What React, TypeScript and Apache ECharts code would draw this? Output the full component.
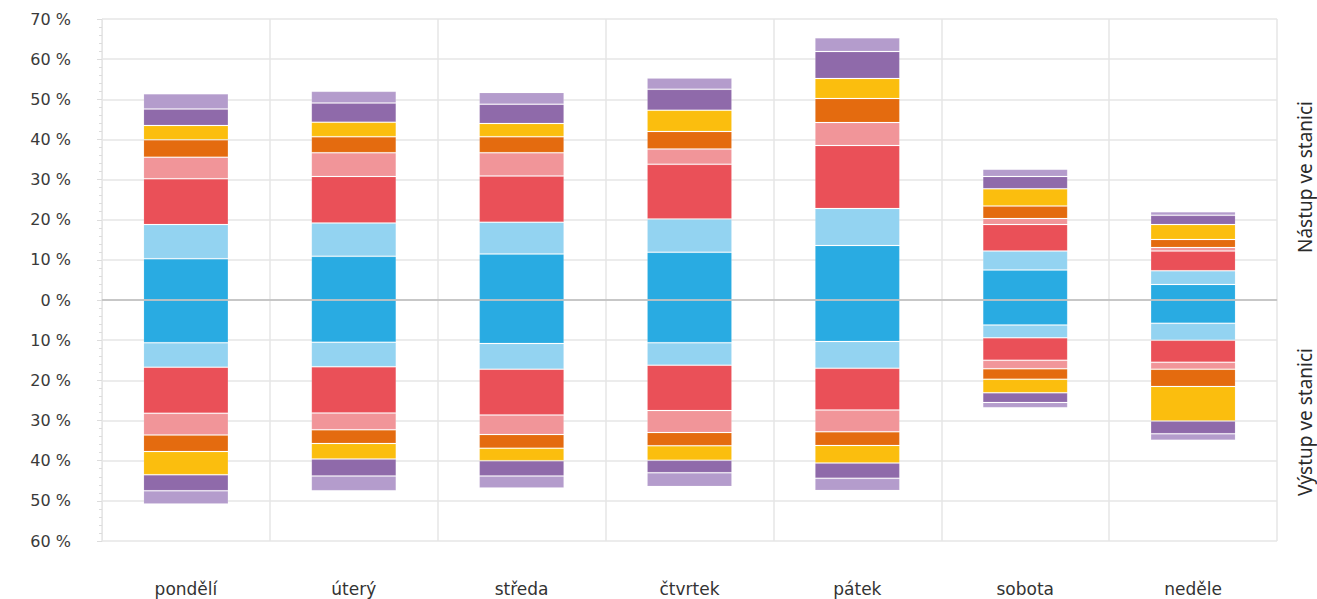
import React, { useEffect, useRef } from "react";
import * as echarts from "echarts";

// Days of the week
const days = ["pondělí", "úterý", "středa", "čtvrtek", "pátek", "sobota", "neděle"];

// Segment colours, from the zero line outwards
const segmentColors = [
  "#29ABE2",
  "#93D3F1",
  "#EA5058",
  "#F19599",
  "#E46B0F",
  "#FBBE0E",
  "#8F6AAA",
  "#B49CCC",
];

// Boarding share (%) per segment, one array per segment, one value per day
const boardBlue = [10.3, 10.9, 11.5, 11.9, 13.6, 7.5, 3.9];
const boardLightBlue = [8.5, 8.3, 7.9, 8.3, 9.2, 4.7, 3.4];
const boardRed = [11.4, 11.6, 11.5, 13.6, 15.7, 6.6, 4.9];
const boardPink = [5.4, 5.9, 5.8, 3.8, 5.7, 1.5, 0.9];
const boardOrange = [4.3, 4.0, 4.0, 4.4, 6.0, 3.1, 2.0];
const boardYellow = [3.6, 3.6, 3.3, 5.3, 5.0, 4.3, 3.7];
const boardPurple = [4.1, 4.8, 4.8, 5.2, 6.7, 3.1, 2.3];
const boardLightPurple = [3.8, 2.9, 2.9, 2.8, 3.4, 1.8, 0.9];

// Alighting share (%) per segment
const alightBlue = [10.6, 10.5, 10.8, 10.6, 10.3, 6.2, 5.8];
const alightLightBlue = [6.1, 6.1, 6.4, 5.6, 6.7, 3.2, 4.2];
const alightRed = [11.5, 11.5, 11.4, 11.3, 10.4, 5.6, 5.5];
const alightPink = [5.4, 4.2, 4.9, 5.5, 5.4, 2.1, 1.7];
const alightOrange = [4.1, 3.4, 3.4, 3.3, 3.4, 2.6, 4.3];
const alightYellow = [5.8, 3.9, 3.1, 3.6, 4.4, 3.4, 8.6];
const alightPurple = [4.0, 4.2, 3.8, 3.1, 3.8, 2.4, 3.2];
const alightLightPurple = [3.3, 3.7, 3.0, 3.4, 3.0, 1.3, 1.6];

const boarding = [
  boardBlue,
  boardLightBlue,
  boardRed,
  boardPink,
  boardOrange,
  boardYellow,
  boardPurple,
  boardLightPurple,
];
const alighting = [
  alightBlue,
  alightLightBlue,
  alightRed,
  alightPink,
  alightOrange,
  alightYellow,
  alightPurple,
  alightLightPurple,
];

// Axis range and step (%)
const yMin = -60;
const yMax = 70;
const yStep = 10;

const sideLabels = ["Nástup ve stanici", "Výstup ve stanici"];

const FONT = "'DejaVu Sans', sans-serif";

export default function App() {
  const ref = useRef<HTMLDivElement>(null);

  useEffect(() => {
    if (!ref.current) return;
    const chart = echarts.init(ref.current, undefined, { renderer: "svg" });

    const barStyle = (color: string) => ({
      color,
      borderColor: "rgba(255,255,255,0.12)",
      borderWidth: 1,
    });

    const series: any[] = [];
    boarding.forEach((vals, i) => {
      series.push({
        name: "nástup " + (i + 1),
        type: "bar",
        stack: "all",
        barWidth: 85,
        data: vals,
        itemStyle: barStyle(segmentColors[i]),
        ...(i === 0
          ? {
              markLine: {
                silent: true,
                symbol: "none",
                label: { show: false },
                lineStyle: { color: "#bdbdbd", width: 1.5, type: "solid" },
                data: [{ yAxis: 0 }],
              },
            }
          : {}),
      });
    });
    alighting.forEach((vals, i) => {
      series.push({
        name: "výstup " + (i + 1),
        type: "bar",
        stack: "all",
        barWidth: 85,
        data: vals.map((v) => -v),
        itemStyle: barStyle(segmentColors[i]),
      });
    });

    chart.setOption({
      animation: false,
      backgroundColor: "#ffffff",
      grid: { left: 102, right: 40, top: 19, bottom: 58 },
      xAxis: {
        type: "category",
        data: days,
        axisLine: { show: true, lineStyle: { color: "#e3e3e3", width: 1.5 } },
        axisTick: { show: false },
        axisLabel: {
          color: "#333333",
          fontSize: 17,
          fontFamily: FONT,
          margin: 39,
        },
        splitLine: { show: true, lineStyle: { color: "#e6e6e6", width: 1.5 } },
      },
      yAxis: {
        type: "value",
        min: yMin,
        max: yMax,
        interval: yStep,
        axisLine: { show: true, lineStyle: { color: "#e6e6e6" } },
        axisTick: { show: true, length: 5, lineStyle: { color: "#dcdcdc" } },
        minorTick: { show: true, splitNumber: 5, length: 3, lineStyle: { color: "#dcdcdc" } },
        axisLabel: {
          color: "#3a3a3a",
          fontSize: 16,
          fontFamily: FONT,
          margin: 31,
          formatter: (v: number) => Math.abs(v) + " %",
        },
        splitLine: { show: true, lineStyle: { color: "#e6e6e6", width: 1.5 } },
      },
      graphic: [
        {
          type: "text",
          x: 1305,
          y: 177,
          rotation: Math.PI / 2,
          style: {
            text: sideLabels[0],
            fill: "#2b2b2b",
            font: "19px 'Noto Sans', sans-serif",
            align: "center",
            verticalAlign: "middle",
          },
        },
        {
          type: "text",
          x: 1305,
          y: 422,
          rotation: Math.PI / 2,
          style: {
            text: sideLabels[1],
            fill: "#2b2b2b",
            font: "19px 'Noto Sans', sans-serif",
            align: "center",
            verticalAlign: "middle",
          },
        },
      ],
      series,
    });

    return () => chart.dispose();
  }, []);

  return <div ref={ref} style={{ width: 1317, height: 599, position: "absolute", left: 0, top: 0 }} />;
}
